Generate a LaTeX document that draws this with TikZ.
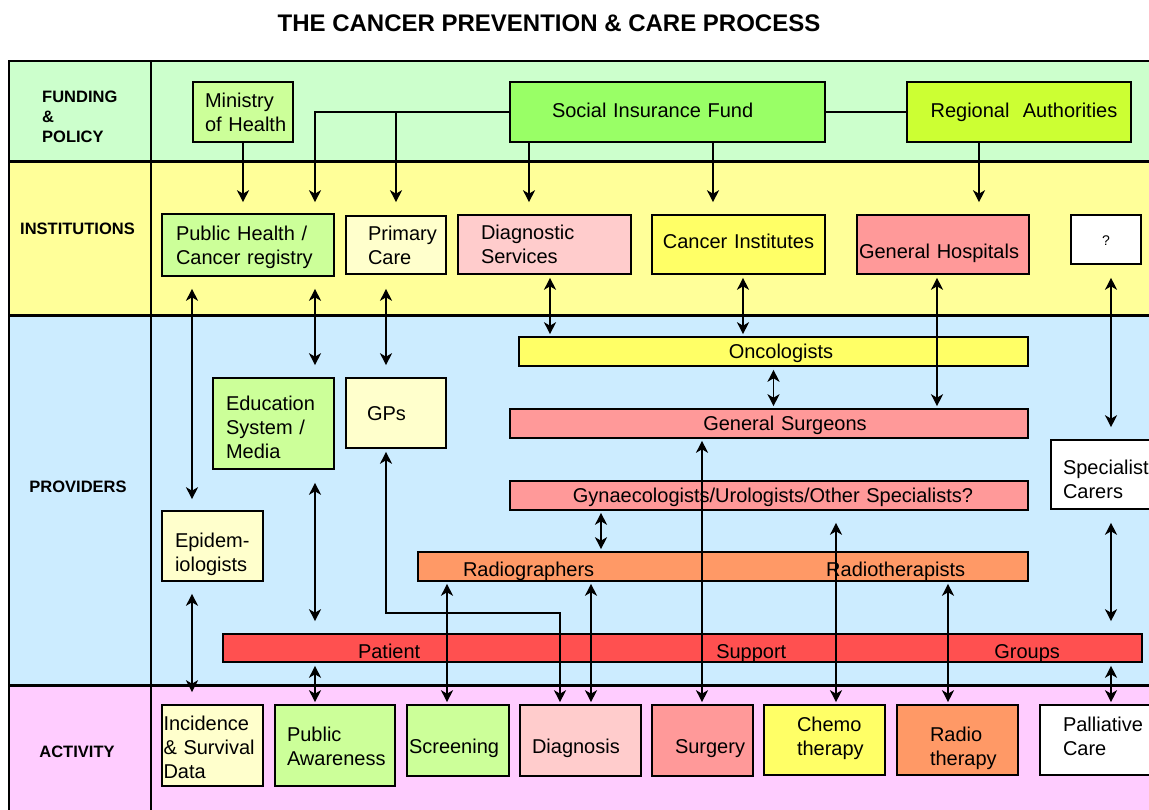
\documentclass[tikz,border=0pt]{standalone}
\usepackage{fontspec}
\setmainfont{Liberation Sans}
\usetikzlibrary{arrows.meta}
\definecolor{cFund}{HTML}{CCFFCC}
\definecolor{cInst}{HTML}{FFFF99}
\definecolor{cProv}{HTML}{CCECFF}
\definecolor{cAct}{HTML}{FFCCFF}
\definecolor{cLG}{HTML}{CCFF99}
\definecolor{cSIF}{HTML}{99FF66}
\definecolor{cRA}{HTML}{CCFF33}
\definecolor{cLY}{HTML}{FFFFCC}
\definecolor{cPink}{HTML}{FFCCCC}
\definecolor{cYel}{HTML}{FFFF66}
\definecolor{cSal}{HTML}{FF9999}
\definecolor{cOr}{HTML}{FF9966}
\definecolor{cRed}{HTML}{FF5050}
\newcommand{\bodyfont}{\fontsize{20}{24}\selectfont}
\newcommand{\lblfont}{\fontsize{16.5}{20}\selectfont\bfseries}
\begin{document}
\begin{tikzpicture}[x=1pt,y=-1pt,
  >={Stealth[length=12pt,width=12pt,inset=3.5pt]},
  bx/.style={draw=black, line width=1.6pt, inner ysep=0pt, font=\bodyfont, align=left},
  geo/.style n args={4}{text width=#1pt, inner xsep=#2pt, text height=#3pt, text depth=#4pt},
  conn/.style={line width=1.6pt},
  arr/.style={conn, ->},
  dbl/.style={conn, <->},
  band/.style={font=\lblfont, inner sep=0pt}]
\useasboundingbox (0,0) rectangle (1149,810);
\fill[white] (0,0) rectangle (1149,810);
\begin{scope}
\clip (0,0) rectangle (1149,810);
% bands
\fill[cFund] (9,61) rectangle (1170,162);
\fill[cInst] (9,162) rectangle (1170,316);
\fill[cProv] (9,316) rectangle (1170,685);
\fill[cAct] (9,685) rectangle (1170,830);
\draw[line width=1.8pt] (1170,61) -- (9,61) -- (9,830);
\draw[line width=1.8pt] (151,61) -- (151,830);
\draw[line width=3pt] (9,162) -- (1170,162);
\draw[line width=3pt] (9,316) -- (1170,316);
\draw[line width=3pt] (9,685) -- (1170,685);

% title and band labels
\node[font=\fontsize{24}{28}\selectfont\bfseries, anchor=base, inner sep=0pt] (title) at (549,32) {THE CANCER PREVENTION \& CARE PROCESS};
\node[band, anchor=base west, text width=100pt, align=left] (lfund) at (42,103) {FUNDING\\\&\\POLICY};
\node[band, anchor=base] (linst) at (77.5,235) {INSTITUTIONS};
\node[band, anchor=base] (lprov) at (78,492) {PROVIDERS};
\node[band, anchor=base] (lact) at (77,757) {ACTIVITY};

% funding & policy
\node[bx, fill=cLG, geo={76}{12}{26}{34}] (moh) at (243,112) {\mbox{Ministry}\\\mbox{of Health}};
\node[bx, fill=cSIF, geo={231}{42}{36}{24}] (sif) at (667.5,112) {Social Insurance Fund};
\node[bx, fill=cRA, geo={200}{12}{36}{24}, align=center] (ra) at (1019,112) {\hspace*{10pt}Regional\ \ Authorities};

% institutions
\node[bx, fill=cLG, geo={144}{14}{27}{35}] (ph) at (248,245) {Public Health /\\Cancer registry};
\node[bx, fill=cLY, geo={56}{22}{25}{33}] (pc) at (396,245) {Primary\\Care};
\node[bx, fill=cPink, geo={127}{23}{25}{34}] (ds) at (544.5,244.5) {Diagnostic\\Services};
\node[bx, fill=cYel, geo={163}{5}{34}{25}, align=center] (ci) at (738.5,244.5) {Cancer Institutes};
\node[bx, fill=cSal, geo={168}{2}{44}{15}] (gh) at (943,244.5) {General Hospitals};
\node[bx, fill=white, geo={60}{5}{31}{18}, align=center, font=\fontsize{14}{16}\selectfont] (q) at (1106,239.5) {?};

% providers
\node[bx, fill=cYel, geo={499}{5}{22}{7}, align=center] (onc) at (773.5,351.5) {\hspace*{15pt}Oncologists};
\node[bx, fill=cSal, geo={508}{5}{21}{8}, align=center] (gs) at (769,423.5) {\hspace*{32pt}General Surgeons};
\node[bx, fill=cSal, geo={508}{5}{21}{8}, align=center] (gyn) at (769,495.5) {\hspace*{8pt}Gynaecologists/Urologists/Other Specialists?};
\node[bx, fill=cOr, geo={610}{0}{24}{5}] (rb) at (723,566.5) {\hspace*{45pt}Radiographers\hspace{232pt}Radiotherapists};
\node[bx, fill=cRed, geo={919}{0}{24}{4}] (pt) at (682.5,648) {\hspace*{135pt}Patient\hspace{296pt}Support\hspace{208pt}Groups};
\node[bx, fill=cLG, geo={95}{13}{32}{59}] (edu) at (273.5,423.5) {Education\\System /\\Media};
\node[bx, fill=cLY, geo={58}{21}{42}{28}] (gp) at (396,413) {GPs};
\node[bx, fill=cLY, geo={75}{13}{36}{34}] (epi) at (212.5,546) {Epidem-\\iologists};
\node[bx, fill=white, geo={96}{12}{34}{35}] (sc) at (1111,474.5) {Specialist\\Carers};

% activity
\node[bx, fill=cLY, geo={98}{1.5}{25}{56}] (inc) at (212.5,745.5) {Incidence\\\& Survival\\Data};
\node[bx, fill=cLG, geo={96}{12}{36}{45}] (pa) at (335,745.5) {Public\\Awareness};
\node[bx, fill=cLG, geo={98}{2}{48}{23}] (scr) at (458,740.5) {Screening};
\node[bx, fill=cPink, geo={97}{12}{48}{23}] (dia) at (580.5,740.5) {Diagnosis};
\node[bx, fill=cSal, geo={55}{23}{48}{23}] (sur) at (702.5,740.5) {Surgery};
\node[bx, fill=cYel, geo={55}{33}{26}{44}] (che) at (824.5,740) {Chemo\\therapy};
\node[bx, fill=cOr, geo={55}{33}{36}{34}] (rad) at (957.5,740) {Radio\\therapy};
\node[bx, fill=white, geo={84}{23}{26}{44}] (pal) at (1105,740) {Palliative\\Care};

% funding connectors
\draw[arr, shorten >=11pt] (moh.south) -- (moh.south |- ph.north);
\draw[arr, shorten >=11pt] (sif.west) -| ([xshift=67pt]ph.north);
\draw[arr, shorten >=13pt] (sif.west -| pc.north) -- (pc.north);
\draw[arr, shorten >=12pt] ([xshift=-15.5pt]ds.north |- sif.south) -- ([xshift=-15.5pt]ds.north);
\draw[arr, shorten >=12pt] ([xshift=-25.5pt]ci.north |- sif.south) -- ([xshift=-25.5pt]ci.north);
\draw[conn] (sif.east) -- (ra.west);
\draw[arr, shorten >=12pt] ([xshift=-40pt]ra.south) -- ([xshift=-40pt]ra.south |- gh.north);

% institutions <-> providers
\draw[dbl, shorten <=12pt, shorten >=11pt] ([xshift=-56pt]ph.south) -- ([xshift=-56pt]ph.south |- epi.north);
\draw[dbl, shorten <=12pt, shorten >=12pt] ([xshift=67pt]ph.south) -- ([xshift=67pt]ph.south |- edu.north);
\draw[dbl, shorten <=14pt, shorten >=12pt] ([xshift=-10pt]pc.south) -- ([xshift=-10pt]pc.south |- gp.north);
\draw[dbl, shorten <=3pt, shorten >=2pt] ([xshift=5.5pt]ds.south) -- ([xshift=5.5pt]ds.south |- onc.north);
\draw[dbl, shorten <=3pt, shorten >=2pt] ([xshift=4.5pt]ci.south) -- ([xshift=4.5pt]ci.south |- onc.north);
\draw[dbl, shorten <=3pt, shorten >=2pt] ([xshift=-6pt]gh.south) -- ([xshift=-6pt]gh.south |- gs.north);
\draw[dbl, shorten <=13pt, shorten >=12pt] ([xshift=5pt]q.south) -- ([xshift=5pt]q.south |- sc.north);
\draw[dbl, shorten <=3pt, shorten >=2pt] (onc.south) -- (onc.south |- gs.north);

% providers <-> activities
\draw[dbl, shorten <=2pt, shorten >=2pt] ([xshift=-67pt]gs.south) -- ([xshift=-67pt]gs.south |- sur.north);
\draw[dbl, shorten <=2pt, shorten >=2pt] ([xshift=-168pt]gyn.south) -- ([xshift=-168pt]gyn.south |- rb.north);
\draw[dbl, shorten <=12pt, shorten >=2pt] ([xshift=67pt]gyn.south) -- ([xshift=67pt]gyn.south |- che.north);
\draw[dbl, shorten <=2pt, shorten >=2pt] ([xshift=-276pt]rb.south) -- ([xshift=-276pt]rb.south |- scr.north);
\draw[dbl, shorten <=2pt, shorten >=2pt] ([xshift=-132pt]rb.south) -- ([xshift=-132pt]rb.south |- dia.north);
\draw[dbl, shorten <=2pt, shorten >=2pt] ([xshift=225pt]rb.south) -- ([xshift=225pt]rb.south |- rad.north);
\draw[dbl, shorten <=3pt, shorten >=2pt] ([xshift=-10pt]gp.south) -- ++(0,164) -| ([xshift=-20.5pt]dia.north);
\draw[dbl, shorten <=13pt, shorten >=12pt] ([xshift=41.5pt]edu.south) -- ([xshift=41.5pt]edu.south |- pt.north);
\draw[dbl, shorten <=3pt, shorten >=2pt] ([xshift=-20pt]pa.north |- pt.south) -- ([xshift=-20pt]pa.north);
\draw[dbl, shorten <=12pt, shorten >=12pt] ([xshift=-20.5pt]epi.south) -- ([xshift=-20.5pt]epi.south |- inc.north);
\draw[dbl, shorten <=13pt, shorten >=12pt] (sc.south) -- (sc.south |- pt.north);
\draw[dbl, shorten <=3pt, shorten >=2pt] ([xshift=6pt]pal.north |- pt.south) -- ([xshift=6pt]pal.north);
\end{scope}
\end{tikzpicture}
\end{document}
